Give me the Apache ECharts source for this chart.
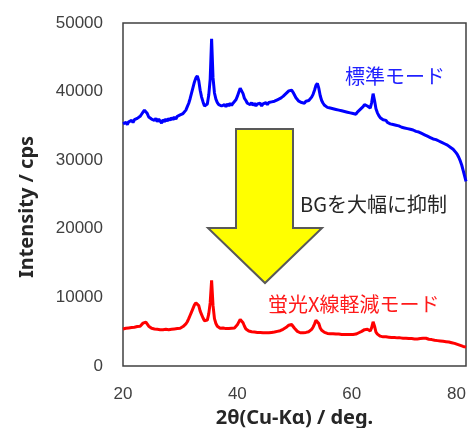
<!DOCTYPE html>
<html>
<head>
<meta charset="utf-8">
<script src="https://cdn.jsdelivr.net/npm/echarts@6/dist/echarts.min.js"></script>
<style>html,body{margin:0;padding:0;background:#fff;}#c{width:475px;height:428px;}</style>
</head>
<body>
<div id="c"></div>
<script>
// 2θ sampling grid (deg)
var twoTheta = [
20,20.25,20.5,20.75,21,21.25,21.5,21.75,22,22.25,22.5,22.75,23,23.25,23.5,23.75,24,24.25,24.5,24.75,
25,25.25,25.5,25.75,26,26.25,26.5,26.75,27,27.25,27.5,27.75,28,28.25,28.5,28.75,29,29.25,29.5,29.75,
30,30.25,30.5,30.75,31,31.25,31.5,31.75,32,32.25,32.5,32.75,33,33.25,33.5,33.75,34,34.25,34.5,34.75,
35,35.25,35.5,35.75,36,36.25,36.5,36.75,37,37.25,37.5,37.75,38,38.25,38.5,38.75,39,39.25,39.5,39.75,
40,40.25,40.5,40.75,41,41.25,41.5,41.75,42,42.25,42.5,42.75,43,43.25,43.5,43.75,44,44.25,44.5,44.75,
45,45.25,45.5,45.75,46,46.25,46.5,46.75,47,47.25,47.5,47.75,48,48.25,48.5,48.75,49,49.25,49.5,49.75,
50,50.25,50.5,50.75,51,51.25,51.5,51.75,52,52.25,52.5,52.75,53,53.25,53.5,53.75,54,54.25,54.5,54.75,
55,55.25,55.5,55.75,56,56.25,56.5,56.75,57,57.25,57.5,57.75,58,58.25,58.5,58.75,59,59.25,59.5,59.75,
60,60.25,60.5,60.75,61,61.25,61.5,61.75,62,62.25,62.5,62.75,63,63.25,63.5,63.75,64,64.25,64.5,64.75,
65,65.25,65.5,65.75,66,66.25,66.5,66.75,67,67.25,67.5,67.75,68,68.25,68.5,68.75,69,69.25,69.5,69.75,
70,70.25,70.5,70.75,71,71.25,71.5,71.75,72,72.25,72.5,72.75,73,73.25,73.5,73.75,74,74.25,74.5,74.75,
75,75.25,75.5,75.75,76,76.25,76.5,76.75,77,77.25,77.5,77.75,78,78.25,78.5,78.75,79,79.25,79.5,79.75,
80
];
// 標準モード (cps)
var standardMode = [
35300,35100,35500,35200,35600,35400,35800,35500,35900,35700,36100,35900,36400,36700,37000,37300,37100,36800,36300,36400,
36000,36200,35800,36100,35600,36000,35700,35400,35900,35600,36000,35700,36100,35800,36200,35900,36300,36000,36400,36200,
36600,36400,36800,37000,37300,37800,38300,39000,39800,40600,41400,42000,42300,41600,40200,39200,38500,37900,37700,38200,
39500,41800,47700,42000,39800,38900,38400,38100,38300,37900,37700,38100,37800,38200,37900,38300,38000,38300,38400,38800,
39300,39900,40500,40400,39700,39000,38700,38300,38500,38100,38400,38000,38300,37900,38200,38000,38300,37900,38200,38000,
38400,38100,38400,38200,38500,38300,38600,38500,38800,38700,39000,39100,39300,39500,39700,39900,40100,40300,40200,39900,
39500,39100,38900,38600,38700,38400,38600,38300,38600,38400,38700,38900,39200,39600,40200,40900,41200,40500,39400,38700,
38300,38000,38100,37700,37900,37600,37800,37500,37700,37400,37600,37300,37500,37200,37400,37100,37300,37000,37200,36900,
37100,36800,37000,36700,37000,37200,37400,37500,37800,38100,38200,37900,37700,37600,38400,39700,38700,37500,36900,36500,
36200,36000,35900,35700,35800,35500,35600,35300,35500,35200,35400,35100,35300,35000,35100,34800,35000,34700,34900,34600,
34800,34500,34700,34400,34500,34200,34400,34100,34200,33900,34000,33700,33800,33500,33600,33300,33400,33100,33300,33000,
33100,32800,32900,32600,32700,32400,32500,32200,32200,31900,31900,31600,31400,31100,30800,30400,29900,29300,28500,27700,
26900
];
// 蛍光X線軽減モード (cps)
var reducedMode = [
5400,5300,5500,5350,5550,5400,5600,5450,5650,5550,5750,5650,5800,6000,6250,6450,6400,6100,5800,5650,
5500,5600,5400,5550,5350,5500,5300,5450,5300,5500,5350,5500,5300,5450,5350,5500,5400,5550,5450,5600,
5500,5700,5750,5950,6150,6450,6900,7400,7900,8400,8900,9200,9300,8800,8000,7500,7000,6600,6400,6700,
7600,9200,12500,8800,6900,6200,5800,5600,5500,5400,5550,5350,5450,5300,5450,5350,5500,5400,5550,5700,
6000,6400,6800,6750,6300,5800,5400,5250,5100,5200,5000,5100,4950,5050,4900,5050,4900,5000,4850,5000,
4850,4950,4850,5000,4900,5050,4950,5100,5050,5150,5150,5300,5350,5500,5600,5800,5950,6100,6050,5800,
5500,5250,5050,4900,4850,4750,4850,4750,4900,4850,5000,5150,5350,5650,6100,6650,6850,6200,5550,5200,
5000,4900,4850,4750,4850,4700,4800,4700,4800,4650,4750,4650,4750,4600,4700,4600,4700,4600,4700,4600,
4700,4600,4700,4650,4750,4850,4950,5050,5200,5300,5400,5350,5150,5100,5600,6450,5800,4950,4650,4450,
4350,4300,4250,4200,4250,4150,4200,4100,4150,4050,4150,4050,4100,4000,4100,4000,4050,3950,4050,3950,
4000,3900,4000,3900,3950,3850,3950,3900,4000,3950,4050,4000,4050,3950,3900,3800,3850,3700,3750,3650,
3700,3600,3650,3550,3600,3500,3550,3450,3500,3400,3400,3300,3300,3200,3150,3050,3000,2900,2850,2800,
2750
];
var seriesNames = ['標準モード', '蛍光X線軽減モード'];
var xTicks = [20, 40, 60, 80];
var yTicks = [0, 10000, 20000, 30000, 40000, 50000];
var annotationText = 'BGを大幅に抑制';

function pairs(ys) { return twoTheta.map(function (x, i) { return [x, ys[i]]; }); }

var chart = echarts.init(document.getElementById('c'), null, { renderer: 'canvas' });
var cjk = '"Noto Sans CJK JP", "Noto Sans", sans-serif';
chart.setOption({
  animation: false,
  backgroundColor: '#ffffff',
  grid: { left: 123, right: 9, top: 23, bottom: 62, outerBoundsMode: 'none', containLabel: false,
    show: true, borderColor: '#404040', borderWidth: 1.5, backgroundColor: 'transparent' },
  xAxis: {
    type: 'value', min: xTicks[0], max: xTicks[xTicks.length - 1], interval: 20,
    name: '2θ(Cu-Kα) / deg.', nameLocation: 'middle', nameGap: 40,
    nameTextStyle: { fontFamily: '"Noto Sans", sans-serif', fontWeight: 'bold', fontSize: 20, color: '#262626' },
    axisLine: { show: false }, axisTick: { show: false }, splitLine: { show: false },
    axisLabel: { margin: 20, fontFamily: '"Liberation Sans", Arial, sans-serif', fontSize: 17, color: '#404040', alignMaxLabel: 'right',
      formatter: function (v) { return String(v); } }
  },
  yAxis: {
    type: 'value', min: yTicks[0], max: yTicks[yTicks.length - 1], interval: 10000,
    name: 'Intensity / cps', nameLocation: 'middle', nameGap: 86,
    nameTextStyle: { fontFamily: '"Noto Sans", sans-serif', fontWeight: 'bold', fontSize: 20, color: '#262626', padding: [0, 25, 0, 0] },
    axisLine: { show: false }, axisTick: { show: false }, splitLine: { show: false },
    axisLabel: { margin: 20, fontFamily: '"Liberation Sans", Arial, sans-serif', fontSize: 17, color: '#404040',
      formatter: function (v) { return String(v); } }
  },
  series: [
    { name: seriesNames[0], type: 'line', data: pairs(standardMode), showSymbol: false, symbol: 'none',
      lineStyle: { color: '#0000ff', width: 3 }, itemStyle: { color: '#0000ff' }, z: 3 },
    { name: seriesNames[1], type: 'line', data: pairs(reducedMode), showSymbol: false, symbol: 'none',
      lineStyle: { color: '#ff0000', width: 3 }, itemStyle: { color: '#ff0000' }, z: 3 }
  ],
  graphic: [
    { type: 'polygon', z: 10,
      shape: { points: [[236,129],[293,129],[293,228],[322,228],[265,283],[208,228],[236,228]] },
      style: { fill: '#ffff00', stroke: '#595959', lineWidth: 2, lineJoin: 'miter' } },
    { type: 'text', left: 345, top: 66, z: 10,
      style: { text: seriesNames[0], fill: '#1f1fff', font: '20px ' + cjk } },
    { type: 'text', left: 300, top: 194, z: 10,
      style: { text: annotationText, fill: '#262626', font: '20px ' + cjk } },
    { type: 'text', left: 268, top: 294, z: 10,
      style: { text: seriesNames[1], fill: '#ff1a1a', font: '20px ' + cjk } }
  ]
});
</script>
</body>
</html>
